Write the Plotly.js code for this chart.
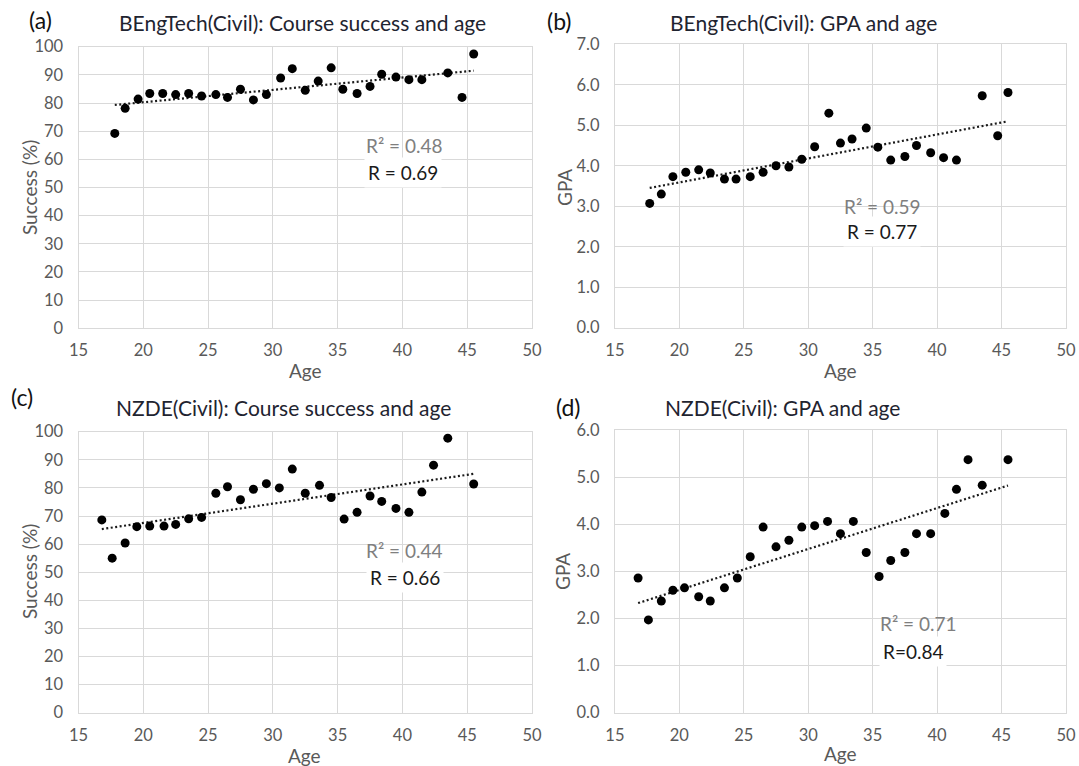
<!DOCTYPE html>
<html>
<head>
<meta charset="utf-8">
<script src="https://cdn.plot.ly/plotly-3.0.1.min.js"></script>
<style>
html,body{margin:0;padding:0;background:#fff;}
#chart{width:1079px;height:766px;}
</style>
</head>
<body>
<div id="chart"></div>
<script>
// ---------------- DATA ----------------
// (a) BEngTech(Civil): Course success and age
const ageA = [17.8, 18.6, 19.6, 20.5, 21.5, 22.5, 23.5, 24.5, 25.6, 26.5, 27.5, 28.5, 29.5, 30.6, 31.5, 32.5, 33.5, 34.5, 35.4, 36.5, 37.5, 38.4, 39.5, 40.5, 41.5, 43.5, 44.6, 45.5];
const successA = [69.2, 78.1, 81.4, 83.4, 83.4, 83.0, 83.4, 82.5, 83.0, 82.0, 84.9, 81.1, 83.0, 88.9, 92.2, 84.5, 87.8, 92.5, 84.9, 83.4, 85.9, 90.2, 89.2, 88.3, 88.3, 90.7, 82.0, 97.4];
// (b) BEngTech(Civil): GPA and age
const ageB = [17.7, 18.6, 19.5, 20.5, 21.5, 22.4, 23.5, 24.4, 25.5, 26.5, 27.5, 28.5, 29.5, 30.5, 31.6, 32.5, 33.4, 34.5, 35.4, 36.4, 37.5, 38.4, 39.5, 40.5, 41.5, 43.5, 44.7, 45.5];
const gpaB = [3.07, 3.30, 3.73, 3.84, 3.90, 3.82, 3.67, 3.67, 3.73, 3.84, 4.00, 3.97, 4.16, 4.47, 5.30, 4.56, 4.66, 4.93, 4.46, 4.14, 4.23, 4.50, 4.32, 4.20, 4.14, 5.73, 4.74, 5.81];
// (c) NZDE(Civil): Course success and age
const ageC = [16.8, 17.6, 18.6, 19.5, 20.5, 21.6, 22.5, 23.5, 24.5, 25.6, 26.5, 27.5, 28.5, 29.5, 30.5, 31.5, 32.5, 33.6, 34.5, 35.5, 36.5, 37.5, 38.4, 39.5, 40.5, 41.5, 42.4, 43.5, 45.5];
const successC = [68.6, 55.0, 60.4, 66.2, 66.4, 66.4, 67.0, 69.0, 69.5, 78.1, 80.4, 75.8, 79.5, 81.5, 80.0, 86.7, 78.1, 80.9, 76.6, 68.9, 71.3, 77.1, 75.2, 72.7, 71.3, 78.5, 88.1, 97.7, 81.4];
// (d) NZDE(Civil): GPA and age
const ageD = [16.8, 17.6, 18.6, 19.5, 20.4, 21.5, 22.4, 23.5, 24.5, 25.5, 26.5, 27.5, 28.5, 29.5, 30.5, 31.5, 32.5, 33.5, 34.5, 35.5, 36.4, 37.5, 38.4, 39.5, 40.6, 41.5, 42.4, 43.5, 45.5];
const gpaD = [2.86, 1.97, 2.37, 2.60, 2.65, 2.46, 2.37, 2.65, 2.86, 3.31, 3.94, 3.52, 3.66, 3.94, 3.97, 4.06, 3.80, 4.06, 3.40, 2.89, 3.23, 3.40, 3.80, 3.80, 4.23, 4.74, 5.37, 4.83, 5.37];

const panelLabels = ["(a)", "(b)", "(c)", "(d)"];
const panelTitles = ["BEngTech(Civil): Course success and age", "BEngTech(Civil): GPA and age",
                     "NZDE(Civil): Course success and age", "NZDE(Civil): GPA and age"];
const yTitles = ["Success (%)", "GPA", "Success (%)", "GPA"];
const xTitle = "Age";
const r2Labels = ["R\u00B2 = 0.48", "R\u00B2 = 0.59", "R\u00B2 = 0.44", "R\u00B2 = 0.71"];
const rLabels = ["R = 0.69", "R = 0.77", "R = 0.66", "R=0.84"];
const xTickVals = [15, 20, 25, 30, 35, 40, 45, 50];

// ---------------- HELPERS ----------------
const W = 1079, H = 766;
const FONT = "Lato, 'Open Sans', sans-serif";
function px(x) { return x / W; }
function py(y) { return 1 - y / H; }

function linfit(xs, ys) {
  const n = xs.length;
  let sx = 0, sy = 0, sxx = 0, sxy = 0;
  for (let i = 0; i < n; i++) { sx += xs[i]; sy += ys[i]; sxx += xs[i] * xs[i]; sxy += xs[i] * ys[i]; }
  const b = (n * sxy - sx * sy) / (n * sxx - sx * sx);
  const a = (sy - b * sx) / n;
  const x0 = Math.min(...xs), x1 = Math.max(...xs);
  return { x: [x0, x1], y: [a + b * x0, a + b * x1] };
}

const series = [
  { x: ageA, y: successA, xa: "x", ya: "y" },
  { x: ageB, y: gpaB, xa: "x2", ya: "y2" },
  { x: ageC, y: successC, xa: "x3", ya: "y3" },
  { x: ageD, y: gpaD, xa: "x4", ya: "y4" }
];

const traces = [];
series.forEach(s => {
  const f = linfit(s.x, s.y);
  traces.push({
    x: f.x, y: f.y, xaxis: s.xa, yaxis: s.ya, type: "scatter", mode: "lines",
    line: { color: "#1a1a1a", width: 2.2, dash: "2px,2.5px" }, hoverinfo: "skip"
  });
  traces.push({
    x: s.x, y: s.y, xaxis: s.xa, yaxis: s.ya, type: "scatter", mode: "markers",
    marker: { color: "#000", size: 9 }
  });
});

function xaxisCfg(domain, anchor) {
  return {
    domain: domain, anchor: anchor, range: [15, 50], tickvals: xTickVals,
    showgrid: true, gridcolor: "#d9d9d9", gridwidth: 1, zeroline: false,
    showline: true, mirror: true, linecolor: "#d9d9d9", linewidth: 1,
    ticks: "", ticklabelstandoff: 7,
    tickfont: { family: FONT, size: 16.5, color: "#595959" }, fixedrange: true
  };
}
function yaxisCfg(domain, anchor, max, dtick, fmt) {
  return {
    domain: domain, anchor: anchor, range: [0, max], dtick: dtick, tick0: 0, tickformat: fmt,
    showgrid: true, gridcolor: "#d9d9d9", gridwidth: 1, zeroline: false,
    showline: true, mirror: true, linecolor: "#d9d9d9", linewidth: 1,
    ticks: "", ticklabelstandoff: 11,
    tickfont: { family: FONT, size: 16.5, color: "#595959" }, fixedrange: true
  };
}

const xL = [px(78.5), px(532)], xR = [px(614.9), px(1066)];
const layout = {
  width: W, height: H, margin: { l: 0, r: 0, t: 0, b: 0 },
  paper_bgcolor: "#fff", plot_bgcolor: "#fff", showlegend: false,
  xaxis: xaxisCfg(xL, "y"),
  yaxis: yaxisCfg([py(328.3), py(46.7)], "x", 100, 10, "d"),
  xaxis2: xaxisCfg(xR, "y2"),
  yaxis2: yaxisCfg([py(327.7), py(44.3)], "x2", 7, 1, ".1f"),
  xaxis3: xaxisCfg(xL, "y3"),
  yaxis3: yaxisCfg([py(712.7), py(431.7)], "x3", 100, 10, "d"),
  xaxis4: xaxisCfg(xR, "y4"),
  yaxis4: yaxisCfg([py(712.7), py(430)], "x4", 6, 1, ".1f"),
  annotations: []
};

function ann(text, x, y, opts) {
  return Object.assign({
    text: text, xref: "paper", yref: "paper", x: px(x), y: py(y),
    xanchor: "center", yanchor: "middle", showarrow: false,
    font: { family: FONT, size: 18, color: "#262626" }
  }, opts || {});
}

// Panel labels
const labelPos = [[40, 20], [560, 21], [22, 397], [568, 407]];
// Titles
const titlePos = [[302, 23], [803, 22], [283, 407], [782, 407]];
// Y titles
const yTitlePos = [[29, 188], [564, 188], [29, 572], [562, 572]];
// X titles
const xTitlePos = [[305, 370], [840, 370], [304, 755], [840, 753]];
// R2 / R texts
const r2Pos = [[404, 145], [882, 206], [404, 550], [918, 623]];
const rPos = [[403, 173], [882, 231], [405, 577], [913, 651]];

for (let i = 0; i < 4; i++) {
  layout.annotations.push(ann(panelLabels[i], labelPos[i][0], labelPos[i][1],
    { font: { family: FONT, size: 23, color: "#111" } }));
  layout.annotations.push(ann(panelTitles[i], titlePos[i][0], titlePos[i][1],
    { font: { family: FONT, size: 21, color: "#1f2430" } }));
  layout.annotations.push(ann(yTitles[i], yTitlePos[i][0], yTitlePos[i][1],
    { textangle: -90, font: { family: FONT, size: 19, color: "#595959" } }));
  layout.annotations.push(ann(xTitle, xTitlePos[i][0], xTitlePos[i][1],
    { font: { family: FONT, size: 19, color: "#595959" } }));
  layout.annotations.push(ann(r2Labels[i], r2Pos[i][0], r2Pos[i][1],
    { font: { family: FONT, size: 19, color: "#7f7f7f" } }));
  layout.annotations.push(ann(rLabels[i], rPos[i][0], rPos[i][1],
    { font: { family: FONT, size: 19, color: "#1a1a1a" }, bgcolor: "#fff", borderpad: 3 }));
}

Plotly.newPlot("chart", traces, layout, { staticPlot: true, displayModeBar: false });
</script>
</body>
</html>
